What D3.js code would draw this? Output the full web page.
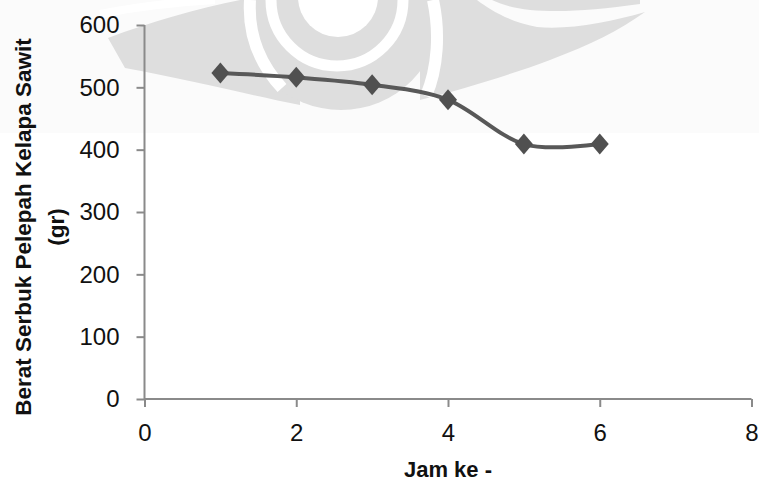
<!DOCTYPE html>
<html>
<head>
<meta charset="utf-8">
<script src="https://cdn.jsdelivr.net/npm/d3@7"></script>
<style>
  body { margin: 0; background: #fff; }
  svg { display: block; font-family: "Liberation Sans", Arial, sans-serif; }
</style>
</head>
<body>
<div id="chart"></div>
<script>
// data
var jam = [1, 2, 3, 4, 5, 6];
var berat = [523, 516, 504, 480, 409, 409];
var xTicks = [0, 2, 4, 6, 8];
var yTicks = [0, 100, 200, 300, 400, 500, 600];
var xTitle = "Jam ke -";
var yTitle = ["Berat Serbuk Pelepah Kelapa Sawit", "(gr)"];

var W = 759, H = 483;
var svg = d3.select("#chart")
  .append("svg")
    .attr("width", W)
    .attr("height", H);

// faint watermark behind the plot (scanned page logo)
svg.append("rect").attr("x", 0).attr("y", 0).attr("width", W).attr("height", 133).attr("fill", "#fbfbfb");
var wm = svg.append("g").attr("fill", "#dedede");
wm.append("path")
  .attr("d", "M108,38 C150,22 200,8 240,0 L300,0 L300,105 C250,95 190,80 125,68 Z");
wm.append("circle").attr("cx", 341).attr("cy", 10).attr("r", 100);
wm.append("path")
  .attr("d", "M420,100 C460,90 510,75 550,60 C590,45 620,30 645,12 C610,22 570,30 537,27 C510,22 490,10 477,0 L420,0 Z");
wm.append("path")
  .attr("d", "M492,0 C520,14 570,14 640,4 L640,0 Z");
var wmw = svg.append("g").attr("fill", "none").attr("stroke", "#fff");
wmw.append("path").attr("stroke-width", 12)
  .attr("d", "M250,0 C248,32 258,62 282,88");
wmw.append("path").attr("stroke-width", 12)
  .attr("d", "M433,0 C440,32 438,68 426,96");
wmw.append("path").attr("stroke-width", 11)
  .attr("d", "M271,0 A66,66 0 0 0 403,0");
wmw.append("path").attr("stroke-width", 8)
  .attr("d", "M100,14 C140,6 180,2 215,0");
svg.append("circle").attr("cx", 338).attr("cy", -3).attr("r", 40).attr("fill", "#fff");

// scales
var x = d3.scaleLinear().domain([0, 8]).range([144.5, 751.5]);
var y = d3.scaleLinear().domain([0, 600]).range([399, 25]);

// y axis
var gy = svg.append("g")
  .attr("transform", "translate(" + x(0) + ",0)")
  .call(d3.axisLeft(y).tickValues(yTicks).tickSize(8).tickPadding(17));
// x axis
var gx = svg.append("g")
  .attr("transform", "translate(0," + y(0) + ")")
  .call(d3.axisBottom(x).tickValues(xTicks).tickSize(8).tickPadding(17));

[gx, gy].forEach(function(g) {
  g.select(".domain").attr("stroke", "#8a8a8a").attr("stroke-width", 2);
  g.selectAll(".tick line").attr("stroke", "#8a8a8a").attr("stroke-width", 2);
  g.selectAll(".tick text")
    .attr("fill", "#111")
    .style("font-family", "Liberation Sans, Arial, sans-serif")
    .style("font-size", "24px");
});
// no outer tick caps on axis domains
gy.select(".domain").attr("d", "M0," + y(600) + "V" + y(0));
gx.select(".domain").attr("d", "M" + x(0) + ",0H" + x(8));

// line, smoothed like the spreadsheet
var pts = jam.map(function(d, i) { return [d, berat[i]]; });
svg.append("path")
  .datum(pts)
  .attr("fill", "none")
  .attr("stroke", "#585858")
  .attr("stroke-width", 4)
  .attr("d", d3.line()
    .x(function(d) { return x(d[0]); })
    .y(function(d) { return y(d[1]); })
    .curve(d3.curveCardinal.tension(0)));

// diamond markers
svg.append("g")
  .selectAll("path")
  .data(pts)
  .enter()
  .append("path")
    .attr("fill", "#505050")
    .attr("d", function(d) {
      var cx = x(d[0]), cy = y(d[1]);
      return "M" + cx + "," + (cy - 10.5) + "L" + (cx + 9) + "," + cy +
             "L" + cx + "," + (cy + 10.5) + "L" + (cx - 9) + "," + cy + "Z";
    });

// axis titles
svg.append("text")
  .attr("x", 448)
  .attr("y", 477)
  .attr("text-anchor", "middle")
  .style("font-weight", "bold")
  .style("font-size", "22px")
  .attr("fill", "#111")
  .text(xTitle);

var yt = svg.append("text")
  .attr("transform", "translate(31,227) rotate(-90)")
  .attr("text-anchor", "middle")
  .style("font-weight", "bold")
  .style("font-size", "22.5px")
  .attr("fill", "#111");
yt.selectAll("tspan")
  .data(yTitle)
  .enter()
  .append("tspan")
    .attr("x", 0)
    .attr("y", function(d, i) { return i * 33; })
    .text(function(d) { return d; });
</script>
</body>
</html>
